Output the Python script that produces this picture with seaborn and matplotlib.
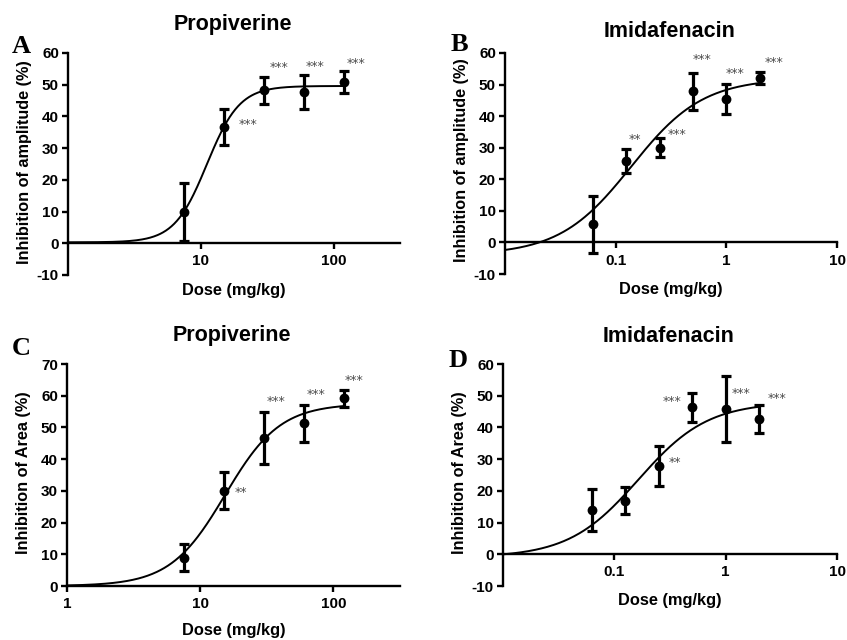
import numpy as np
import pandas as pd
import matplotlib
matplotlib.use("Agg")
import matplotlib.pyplot as plt
import matplotlib.ticker as mticker
import seaborn as sns

# ---------------- data ----------------
prop_doses = [7.5, 15, 30, 60, 120]
imid_doses = [0.0625, 0.125, 0.25, 0.5, 1, 2]

a_mean = [9.9, 36.7, 48.2, 47.7, 50.8]
a_err = [9.1, 5.8, 4.25, 5.35, 3.4]
a_sig = ["", "***", "***", "***", "***"]

b_mean = [5.8, 25.8, 30.0, 47.9, 45.4, 52.2]
b_err = [9.0, 3.85, 3.0, 5.85, 4.75, 1.9]
b_sig = ["", "**", "***", "***", "***", "***"]

c_mean = [8.9, 30.0, 46.6, 51.3, 59.2]
c_err = [4.25, 5.85, 8.25, 5.8, 2.65]
c_sig = ["", "**", "***", "***", "***"]

d_mean = [13.9, 16.9, 27.8, 46.3, 45.8, 42.6]
d_err = [6.6, 4.3, 6.35, 4.55, 10.55, 4.35]
d_sig = ["", "", "**", "***", "***", "***"]

# fitted sigmoid parameters (bottom, top, logEC50, hill)
a_fit = [0.3, 49.6, 1.046, 3.53]
b_fit = [-4.0, 52.0, -0.86, 1.34]
c_fit = [0.0, 57.5, 1.187, 2.1]
d_fit = [-1.0, 48.0, -0.785, 1.39]

titles = ["Propiverine", "Imidafenacin", "Propiverine", "Imidafenacin"]
letters = ["A", "B", "C", "D"]
ylabels = ["Inhibition of amplitude (%)", "Inhibition of amplitude (%)",
           "Inhibition of Area (%)", "Inhibition of Area (%)"]
xlabel = "Dose (mg/kg)"

# ---------------- style ----------------
sns.set_theme(style="ticks")
plt.rcParams["font.family"] = ["Liberation Sans", "DejaVu Sans"]
plt.rcParams["font.weight"] = "bold"
plt.rcParams["axes.labelweight"] = "bold"
plt.rcParams["axes.unicode_minus"] = False

fig = plt.figure(figsize=(8.47, 6.4), dpi=100)
W, H = 847.0, 640.0

# axes boxes in pixels: left, right, top, bottom
boxes = [(68, 400, 53, 275), (505, 837, 53, 274),
         (67, 400, 364, 586), (503, 837, 364, 586)]

panels = [
    dict(doses=prop_doses, mean=a_mean, err=a_err, sig=a_sig, fit=a_fit,
         xlim=(1, 316), xticks=[10, 100], ylim=(-10, 60), yticks=range(-10, 61, 10),
         curve_x=(1, 120),
         sig_pos=[None, (22.6, 37.4), (39.1, 55.3), (72.9, 55.8), (148, 56.8)]),
    dict(doses=imid_doses, mean=b_mean, err=b_err, sig=b_sig, fit=b_fit,
         xlim=(0.01, 10), xticks=[0.1, 1, 10], ylim=(-10, 60), yticks=range(-10, 61, 10),
         curve_x=(0.01, 2),
         sig_pos=[None, (0.148, 32.5), (0.362, 34.1), (0.608, 57.9), (1.21, 53.4), (2.67, 57.1)]),
    dict(doses=prop_doses, mean=c_mean, err=c_err, sig=c_sig, fit=c_fit,
         xlim=(1, 316), xticks=[1, 10, 100], ylim=(0, 70), yticks=range(0, 71, 10),
         curve_x=(1, 120),
         sig_pos=[None, (20.3, 29.4), (37.3, 58.2), (73.6, 60.5), (144, 64.7)]),
    dict(doses=imid_doses, mean=d_mean, err=d_err, sig=d_sig, fit=d_fit,
         xlim=(0.01, 10), xticks=[0.1, 1, 10], ylim=(-10, 60), yticks=range(-10, 61, 10),
         curve_x=(0.01, 2),
         sig_pos=[None, None, (0.353, 28.9), (0.33, 48.2), (1.386, 50.6), (2.89, 49.0)]),
]

title_pos = [(233, 30), (670, 37), (232, 341), (669, 342)]
letter_pos = [(12, 53), (451, 51), (12, 355), (449, 367)]
xlabel_top = [283, 282, 623, 593]
ylabel_cy = [162, 160, 473, 473]


def fmt(v, pos):
    if v >= 1:
        return "%d" % v
    return ("%g" % v)


for i, p in enumerate(panels):
    l, r, t, b = boxes[i]
    ax = fig.add_axes([l / W, 1 - b / H, (r - l) / W, (b - t) / H])
    ax.set_xscale("log")

    bot, top, lec, hill = p["fit"]
    xs = np.logspace(np.log10(p["curve_x"][0]), np.log10(p["curve_x"][1]), 300)
    ys = bot + (top - bot) / (1 + 10 ** ((lec - np.log10(xs)) * hill))
    sns.lineplot(x=xs, y=ys, ax=ax, color="black", lw=1.4, zorder=3)

    df = pd.DataFrame({"dose": p["doses"], "mean": p["mean"], "err": p["err"]})
    ax.errorbar(df["dose"], df["mean"], yerr=df["err"], fmt="none", ecolor="black",
                elinewidth=2.3, capsize=3.4, capthick=2.3, zorder=4)
    sns.scatterplot(data=df, x="dose", y="mean", ax=ax, color="black", s=50,
                    edgecolor="black", linewidth=0, zorder=5)

    for s, pos in zip(p["sig"], p["sig_pos"]):
        if s and pos is not None:
            ax.text(pos[0], pos[1], s, ha="center", va="center", fontsize=9,
                    color="#4d4d4d", fontweight="normal",
                    family=["DejaVu Sans"])

    ax.set_xlim(*p["xlim"])
    ax.set_ylim(*p["ylim"])
    ax.set_xticks(p["xticks"])
    ax.xaxis.set_minor_locator(mticker.NullLocator())
    ax.xaxis.set_major_formatter(mticker.FuncFormatter(fmt))
    ax.set_yticks(list(p["yticks"]))

    for side in ["top", "right"]:
        ax.spines[side].set_visible(False)
    ax.spines["bottom"].set_position(("data", 0))
    for side in ["left", "bottom"]:
        ax.spines[side].set_linewidth(1.7)
        ax.spines[side].set_color("black")
    ax.tick_params(axis="both", which="major", direction="out", length=4,
                   width=1.7, color="black", labelsize=11, labelcolor="black")
    ax.tick_params(axis="x", pad=4)
    ax.tick_params(axis="y", pad=2.5)
    for lab in ax.get_xticklabels() + ax.get_yticklabels():
        lab.set_fontweight("bold")

    ax.set_xlabel(xlabel, fontsize=11.8, fontweight="bold", color="black")
    ax.set_ylabel(ylabels[i], fontsize=11.7, fontweight="bold", color="black")
    ax.xaxis.set_label_coords(((l + r) / 2 - l) / (r - l), (b - xlabel_top[i]) / (b - t))
    ax.yaxis.set_label_coords(-0.108, (b - ylabel_cy[i]) / (b - t))
    ax.grid(False)
    ax.set_facecolor("white")

    tx, ty = title_pos[i]
    fig.text(tx / W, 1 - ty / H, titles[i], ha="center", va="baseline",
             fontsize=15.5, fontweight="bold", color="black")
    lx, ly = letter_pos[i]
    fig.text(lx / W, 1 - ly / H, letters[i], ha="left", va="baseline",
             fontsize=19, fontweight="bold", color="black",
             family=["Liberation Serif", "DejaVu Serif"])

fig.savefig("out.png", dpi=100, facecolor="white")
